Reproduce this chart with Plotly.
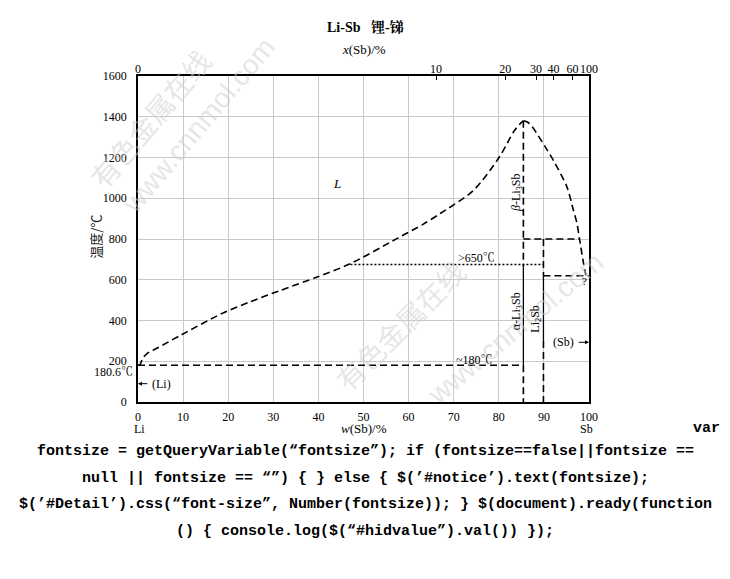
import plotly.graph_objects as go

# ---------------- data ----------------
liq_left_w = [0, 0.4, 1.0, 2.0, 4.3, 9.4, 18.3, 24.9, 31.6, 39.7, 47.1, 57.4, 63.2, 67.0, 74.4, 80.2, 83.4, 85.1, 85.45]
liq_left_t = [180.6, 182, 212, 238, 265, 327, 431, 492, 548, 613, 679, 802, 872, 925, 1039, 1205, 1330, 1374, 1380]
liq_right_w = [85.45, 86.5, 87.7, 90.3, 92.1, 95.1, 96.5, 97.3, 97.9, 98.8, 99.3]
liq_right_t = [1380, 1372, 1342, 1252, 1186, 1056, 945, 880, 800, 679, 622]

w_li3sb = 85.45
w_li2sb = 89.9
t_peak = 1380
t_dotted = 675
t_upper = 800
t_sb_line = 620
t_eut = 180.6
t_li2sb_solid_end = 300
w_dotted_start = 47.1
w_upper_end = 97.9
w_sb_end = 100

at_ticks = [0, 10, 20, 30, 40, 60, 100]
w_ticks = [0, 10, 20, 30, 40, 50, 60, 70, 80, 90, 100]
t_ticks = [0, 200, 400, 600, 800, 1000, 1200, 1400, 1600]

M_LI, M_SB = 6.941, 121.76


def at_to_wt(a):
    x = a / 100.0
    return 100.0 * x * M_SB / (x * M_SB + (1 - x) * M_LI)


SERIF = "Liberation Serif, Times New Roman, Noto Serif CJK SC, Noto Sans CJK SC, serif"
CJK = "Noto Sans CJK SC, Noto Sans CJK JP, sans-serif"
MONO = "Liberation Mono, DejaVu Sans Mono, monospace"

fig = go.Figure()

DASH = "7px,4px"
LW = 1.6


def seg(xs, ys, dash=DASH, width=LW, shape="linear"):
    fig.add_trace(go.Scatter(x=xs, y=ys, mode="lines",
                             line=dict(color="black", width=width, dash=dash, shape=shape, smoothing=0.8),
                             hoverinfo="skip", showlegend=False, cliponaxis=False))


# liquidus
seg(liq_left_w, liq_left_t, shape="spline")
seg(liq_right_w, liq_right_t, shape="spline")
# Li3Sb vertical
seg([w_li3sb, w_li3sb], [t_peak, 660])
seg([w_li3sb, w_li3sb], [660, t_eut], dash="solid", width=1.3)
seg([w_li3sb, w_li3sb], [t_eut, 0])
# Li2Sb vertical
seg([w_li2sb, w_li2sb], [t_upper, t_sb_line])
seg([w_li2sb, w_li2sb], [t_sb_line, t_li2sb_solid_end], dash="solid", width=1.3)
seg([w_li2sb, w_li2sb], [t_li2sb_solid_end, 0])
# horizontals
seg([w_li3sb, w_upper_end], [t_upper, t_upper])
seg([w_li2sb, w_sb_end], [t_sb_line, t_sb_line])
seg([0, w_li3sb], [t_eut, t_eut])
seg([w_dotted_start, w_li2sb], [t_dotted, t_dotted], dash="2px,2px", width=1.5)

# top axis helper trace
fig.add_trace(go.Scatter(x=[0, 100], y=[0, 0], xaxis="x2", mode="markers", marker=dict(opacity=0),
                         hoverinfo="skip", showlegend=False))

TICKFONT = dict(family=SERIF, size=12, color="black")

fig.update_layout(
    width=730, height=579,
    margin=dict(l=137.5, r=141, t=76, b=177.3),
    paper_bgcolor="white", plot_bgcolor="white",
    showlegend=False,
    xaxis=dict(range=[0, 100], tickvals=w_ticks, ticks="", showline=True, linecolor="black", linewidth=1.5,
               mirror=True, showgrid=True, gridcolor="#c9c9c9", gridwidth=1, zeroline=False,
               tickfont=TICKFONT, ticklabelstandoff=3, tickangle=0),
    xaxis2=dict(range=[0, 100], overlaying="x", side="top", tickvals=[at_to_wt(a) for a in at_ticks],
                ticktext=[str(a) for a in at_ticks], ticks="inside", ticklen=4, tickcolor="black",
                showgrid=False, zeroline=False, showline=False, tickfont=TICKFONT, tickangle=0),
    yaxis=dict(range=[0, 1600], tickvals=t_ticks, ticks="", showline=True, linecolor="black", linewidth=1.5,
               mirror=True, showgrid=True, gridcolor="#c9c9c9", gridwidth=1, zeroline=False,
               tickfont=TICKFONT, ticklabelstandoff=7),
)


def px(xp):
    return (xp - 137.5) / 451.5


def py(yp):
    return (401.7 - yp) / 325.7


anns = []


def ann(text, x, y, xref="paper", yref="paper", font=None, **kw):
    d = dict(text=text, x=x, y=y, xref=xref, yref=yref, showarrow=False,
             xanchor="center", yanchor="middle",
             font=font or dict(family=SERIF, size=12, color="black"))
    d.update(kw)
    anns.append(d)


# watermarks
WM = dict(family=CJK, size=28, color="rgba(205,205,205,0.5)")
WM2 = dict(family="Liberation Sans, Arial, sans-serif", size=28, color="rgba(205,205,205,0.5)")
ann("有色金属在线", px(150), py(118), font=WM, textangle=-50)
ann("www.cnnmol.com", px(198), py(125), font=WM2, textangle=-50)
ann("有色金属在线", px(400), py(325), font=WM, textangle=-45)
ann("www.cnnmol.com", px(515), py(328), font=WM2, textangle=-40)

# titles
ann("<b>Li-Sb</b>   <b>锂-锑</b>", px(365), py(27), font=dict(family=SERIF, size=14, color="black"))
ann("<i>x</i>(Sb)/%", px(364), py(50), font=dict(family=SERIF, size=13, color="black"))
ann("<i>w</i>(Sb)/%", px(364), py(428), font=dict(family=SERIF, size=13, color="black"))
ann("Li", px(139), py(429), font=dict(family=SERIF, size=12, color="black"))
ann("Sb", px(586), py(429), font=dict(family=SERIF, size=12, color="black"))
ann("温度/℃", px(95), py(237), font=dict(family=CJK, size=13, color="#222"), textangle=-90)

# region labels
ann("<i>L</i>", 44.2, 1074, xref="x", yref="y", font=dict(family=SERIF, size=13, color="black"))
ann("<i>β</i>-Li<sub>3</sub>Sb", 84.0, 1030, xref="x", yref="y", textangle=-90)
ann("α-Li<sub>3</sub>Sb", 84.0, 445, xref="x", yref="y", textangle=-90)
ann("Li<sub>2</sub>Sb", 88.3, 410, xref="x", yref="y", textangle=-90)
ann(">650℃", 75.1, 707, xref="x", yref="y")
ann("~180℃", 74.7, 208, xref="x", yref="y")
ann("630.755℃", 100.2, 636, xref="x", yref="y", xanchor="left")
ann("?", 99.1, 592, xref="x", yref="y", font=dict(family=SERIF, size=11, color="black"))
ann("180.6℃", 0, 146, xref="x", yref="y", xanchor="right", xshift=-3,
    font=dict(family=SERIF, size=12, color="black"))
ann("(Li)", 2.6, 90, xref="x", yref="y", xanchor="left")
ann("(Sb)", 97.2, 293, xref="x", yref="y", xanchor="right")
# arrows
anns.append(dict(x=0, y=90, xref="x", yref="y", ax=2.4, ay=90, axref="x", ayref="y", text="",
                 showarrow=True, arrowhead=2, arrowsize=0.8, arrowwidth=1, arrowcolor="black"))
anns.append(dict(x=100, y=293, xref="x", yref="y", ax=97.4, ay=293, axref="x", ayref="y", text="",
                 showarrow=True, arrowhead=2, arrowsize=0.8, arrowwidth=1, arrowcolor="black"))

# trailing page script text
JS = dict(family=MONO, size=15, color="black")
ann("<b>var</b>", px(707), py(428), font=JS)
ann("<b>fontsize = getQueryVariable(“fontsize”); if (fontsize==false||fontsize ==</b>", px(365), py(451), font=JS)
ann("<b>null || fontsize == “”) { } else { $(’#notice’).text(fontsize);</b>", px(365), py(478), font=JS)
ann("<b>$(’#Detail’).css(“font-size”, Number(fontsize)); } $(document).ready(function</b>", px(365), py(504), font=JS)
ann("<b>() { console.log($(“#hidvalue”).val()) });</b>", px(365), py(531), font=JS)

fig.update_layout(annotations=anns)
fig.write_html("out.html")
